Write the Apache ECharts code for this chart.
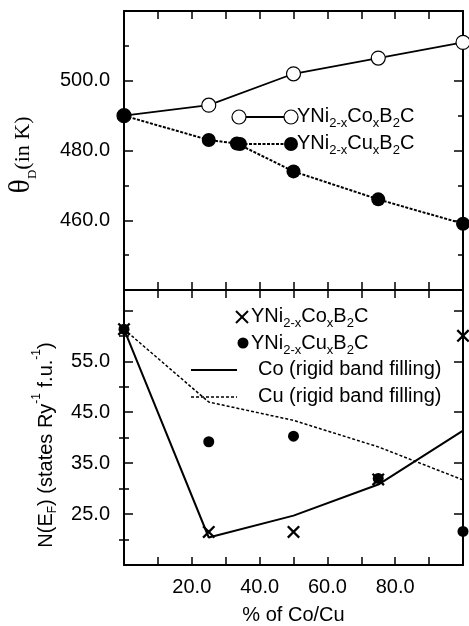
<!DOCTYPE html>
<html>
<head>
<meta charset="utf-8">
<script src="https://cdn.jsdelivr.net/npm/echarts@6/dist/echarts.min.js"></script>
<style>
  html, body { margin: 0; padding: 0; background: #fff; }
  #chart { width: 469px; height: 626px; }
</style>
</head>
<body>
<div id="chart"></div>
<script>
// top panel: Debye temperature (K) vs % of Co/Cu
const coX = [0, 25, 50, 75, 100];
const coTheta = [490, 493, 502, 506.5, 511];
const cuX = [0, 25, 33.3, 50, 75, 100];
const cuTheta = [490, 483, 482, 474, 466, 459];

// bottom panel: N(EF)
const nX = [0, 25, 50, 75, 100];
const coN = [61.3, 21.5, 21.5, 31.8, 60];
const cuN = [61.3, 39.2, 40.3, 32, 21.6];
const coRigid = [61.3, 20.4, 24.7, 30.8, 41.4];
const cuRigid = [61.3, 47, 43.4, 38.2, 31.7];

// tick labels
const xLabels = [20, 40, 60, 80];
const thetaLabels = [460, 480, 500];
const nLabels = [25, 35, 45, 55];
const nMajorTicks = [25, 35, 45, 55, 65];
const nMinorTicks = [20, 30, 40, 50, 60];

const zip = (xs, ys) => xs.map((x, i) => [x, ys[i]]);
const F = '"Liberation Sans", Arial, sans-serif';
const SERIF = '"Liberation Serif", "Times New Roman", serif';
const black = '#000';

const chart = echarts.init(document.getElementById('chart'));

const axisLine = { show: true, onZero: false, lineStyle: { color: black, width: 2 } };
const tick = (len, extra) => Object.assign({ show: true, inside: true, length: len, lineStyle: { color: black, width: 1.5 } }, extra || {});

function xAxis(grid, pos, withLabels) {
  return {
    type: 'value', gridIndex: grid, position: pos, min: 0, max: 100, interval: 10,
    axisLine: axisLine, axisTick: tick(8), splitLine: { show: false },
    axisLabel: withLabels ? {
      show: true, margin: 12, fontFamily: F, fontSize: 20, color: black,
      formatter: v => xLabels.includes(v) ? v.toFixed(1) : ''
    } : { show: false },
    name: withLabels ? '% of Co/Cu' : '',
    nameLocation: 'middle', nameGap: 40,
    nameTextStyle: { fontFamily: F, fontSize: 20, color: black }
  };
}

function thetaAxis(pos, withLabels) {
  return {
    type: 'value', gridIndex: 0, position: pos, min: 440, max: 520, interval: 20,
    axisLine: axisLine, axisTick: tick(9),
    minorTick: { show: true, splitNumber: 2, length: 5, lineStyle: { color: black, width: 1.5 } },
    splitLine: { show: false }, minorSplitLine: { show: false },
    axisLabel: withLabels ? {
      show: true, margin: 14, fontFamily: F, fontSize: 20, color: black,
      formatter: v => thetaLabels.includes(v) ? v.toFixed(1) : ''
    } : { show: false }
  };
}

function nAxis(pos, major, withLabels) {
  return {
    type: 'value', gridIndex: 1, position: pos, min: 15, max: 69,
    axisLine: major ? axisLine : { show: false },
    axisTick: tick(major ? 9 : 5, { customValues: major ? nMajorTicks : nMinorTicks }),
    splitLine: { show: false },
    axisLabel: withLabels ? {
      show: true, margin: 14, fontFamily: F, fontSize: 20, color: black,
      customValues: nLabels,
      formatter: v => v.toFixed(1)
    } : { show: false }
  };
}

const xSym = 'path://M0,1.5L1.5,0L6,4.5L10.5,0L12,1.5L7.5,6L12,10.5L10.5,12L6,7.5L1.5,12L0,10.5L4.5,6Z';

const formulaRich = {
  m: { fontFamily: F, fontSize: 20, lineHeight: 22, verticalAlign: 'top', color: black },
  s: { fontFamily: F, fontSize: 13, lineHeight: 13, padding: [11, 0, 0, 0], verticalAlign: 'top', color: black }
};
const coFormula = '{m|YNi}{s|2-x}{m|Co}{s|x}{m|B}{s|2}{m|C}';
const cuFormula = '{m|YNi}{s|2-x}{m|Cu}{s|x}{m|B}{s|2}{m|C}';

const legendText = (x, y, text, rich) => ({
  type: 'text', x: x, y: y,
  style: { text: text, rich: rich, align: 'left', verticalAlign: 'middle', textAlign: 'left', textVerticalAlign: 'middle', fill: black, font: '20px ' + F }
});

chart.setOption({
  animation: false,
  grid: [
    { left: 124, top: 11, width: 339, height: 279 },
    { left: 124, top: 290, width: 339, height: 277 }
  ],
  xAxis: [
    xAxis(0, 'bottom', false), xAxis(0, 'top', false),
    xAxis(1, 'bottom', true), xAxis(1, 'top', false)
  ],
  yAxis: [
    thetaAxis('left', true), thetaAxis('right', false),
    nAxis('left', true, true), nAxis('right', true, false),
    nAxis('left', false, false), nAxis('right', false, false)
  ],
  series: [
    {
      name: 'Co theta', type: 'line', xAxisIndex: 0, yAxisIndex: 0, clip: false,
      data: zip(coX, coTheta), symbol: 'circle', symbolSize: 14,
      itemStyle: { color: '#fff', borderColor: black, borderWidth: 1.2, opacity: 1 },
      lineStyle: { color: black, width: 1.8 }
    },
    {
      name: 'Cu theta', type: 'line', xAxisIndex: 0, yAxisIndex: 0, clip: false,
      data: zip(cuX, cuTheta), symbol: 'circle', symbolSize: 14,
      itemStyle: { color: black, opacity: 1 },
      lineStyle: { color: black, width: 2, type: [3, 1.5] }
    },
    {
      name: 'Co rigid', type: 'line', xAxisIndex: 2, yAxisIndex: 2, clip: false,
      data: zip(nX, coRigid), showSymbol: false, symbol: 'none',
      lineStyle: { color: black, width: 2 }
    },
    {
      name: 'Cu rigid', type: 'line', xAxisIndex: 2, yAxisIndex: 2, clip: false,
      data: zip(nX, cuRigid), showSymbol: false, symbol: 'none',
      lineStyle: { color: black, width: 1.5, type: [3, 2] }
    },
    {
      name: 'Cu N', type: 'scatter', xAxisIndex: 2, yAxisIndex: 2, clip: false,
      data: zip(nX, cuN), symbol: 'circle', symbolSize: 11,
      itemStyle: { color: black, opacity: 1 }
    },
    {
      name: 'Co N', type: 'scatter', xAxisIndex: 2, yAxisIndex: 2, clip: false,
      data: zip(nX, coN), symbol: xSym, symbolSize: 13,
      itemStyle: { color: black, opacity: 1 }
    }
  ],
  graphic: [
    // y axis titles
    {
      type: 'text', x: 21, y: 155, rotation: Math.PI / 2,
      style: {
        text: '{t|θ}{d|D}{k|(in K)}',
        align: 'center', verticalAlign: 'middle', textAlign: 'center', textVerticalAlign: 'middle',
        rich: {
          t: { fontFamily: SERIF, fontSize: 30, lineHeight: 30, verticalAlign: 'top', color: black },
          d: { fontFamily: SERIF, fontSize: 13, lineHeight: 13, padding: [20, 0, 0, 0], verticalAlign: 'top', color: black },
          k: { fontFamily: SERIF, fontSize: 22, lineHeight: 22, padding: [6, 0, 0, 0], verticalAlign: 'top', color: black }
        }
      }
    },
    {
      type: 'text', x: 41, y: 445, rotation: Math.PI / 2,
      style: {
        text: '{m|N(E}{s|F}{m|) (states Ry}{p|-1}{m| f.u.}{p|-1}{m|)}',
        align: 'center', verticalAlign: 'middle', textAlign: 'center', textVerticalAlign: 'middle',
        rich: {
          m: { fontFamily: F, fontSize: 20, lineHeight: 20, padding: [5, 0, 0, 0], verticalAlign: 'top', color: black },
          s: { fontFamily: F, fontSize: 12, lineHeight: 12, padding: [16, 0, 0, 0], verticalAlign: 'top', color: black },
          p: { fontFamily: F, fontSize: 12, lineHeight: 12, verticalAlign: 'top', color: black }
        }
      }
    },
    // top legend
    { type: 'line', shape: { x1: 239, y1: 117, x2: 291, y2: 117 }, style: { stroke: black, lineWidth: 1.8 } },
    { type: 'circle', shape: { cx: 239, cy: 117, r: 7 }, style: { fill: '#fff', stroke: black, lineWidth: 1.2 } },
    { type: 'circle', shape: { cx: 291, cy: 117, r: 7 }, style: { fill: '#fff', stroke: black, lineWidth: 1.2 } },
    legendText(297, 117, coFormula, formulaRich),
    { type: 'line', shape: { x1: 240, y1: 144, x2: 291, y2: 144 }, style: { stroke: black, lineWidth: 2, lineDash: [3, 1.5] } },
    { type: 'circle', shape: { cx: 240, cy: 144, r: 7 }, style: { fill: black } },
    { type: 'circle', shape: { cx: 291, cy: 144, r: 7 }, style: { fill: black } },
    legendText(297, 144, cuFormula, formulaRich),
    // bottom legend
    { type: 'line', shape: { x1: 236, y1: 311, x2: 248, y2: 323 }, style: { stroke: black, lineWidth: 2 } },
    { type: 'line', shape: { x1: 248, y1: 311, x2: 236, y2: 323 }, style: { stroke: black, lineWidth: 2 } },
    legendText(251, 317, coFormula, formulaRich),
    { type: 'circle', shape: { cx: 243, cy: 343, r: 5.5 }, style: { fill: black } },
    legendText(251, 344, cuFormula, formulaRich),
    { type: 'line', shape: { x1: 191, y1: 370, x2: 237, y2: 370 }, style: { stroke: black, lineWidth: 2 } },
    legendText(258, 370, '{m|Co (rigid band filling)}', formulaRich),
    { type: 'line', shape: { x1: 191, y1: 397, x2: 237, y2: 397 }, style: { stroke: black, lineWidth: 1.5, lineDash: [3, 2] } },
    legendText(258, 397, '{m|Cu (rigid band filling)}', formulaRich)
  ]
});
</script>
</body>
</html>
